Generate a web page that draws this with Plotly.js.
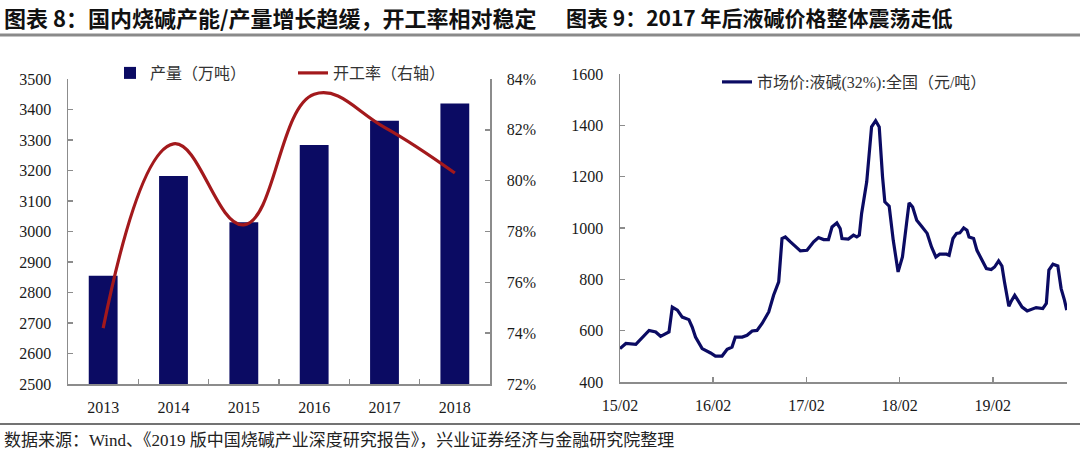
<!DOCTYPE html>
<html><head><meta charset="utf-8">
<script src="https://cdn.plot.ly/plotly-3.0.1.min.js"></script>
<style>html,body{margin:0;padding:0;background:#fff;}#chart{width:1080px;height:452px;}</style>
</head><body><div id="chart"></div>
<script>
// Left chart: output (10k tonnes) and operating rate (%)
const years = ['2013','2014','2015','2016','2017','2018'];
const output = [2855, 3182, 3030, 3284, 3363, 3420];
const rate = [74.2, 81.45, 78.26, 83.4, 82.1, 80.3];

// Right chart: liquid caustic soda (32%) national market price, yuan/tonne
const priceDates = ['2015-02-01','2015-02-24','2015-04-04','2015-04-24','2015-05-26','2015-06-21','2015-07-10','2015-08-12','2015-08-25','2015-09-14',
 '2015-10-03','2015-10-29','2015-11-11','2015-11-24','2015-12-20','2016-01-22','2016-02-10','2016-03-07','2016-03-27','2016-04-15',
 '2016-04-28','2016-05-25','2016-06-13','2016-07-03','2016-07-22','2016-08-11','2016-09-06','2016-09-25','2016-10-15','2016-10-28',
 '2016-11-10','2016-11-30','2017-01-08','2017-02-03','2017-03-01','2017-03-20','2017-04-09','2017-04-28','2017-05-12','2017-05-31',
 '2017-06-13','2017-06-20','2017-07-15','2017-08-04','2017-08-17','2017-08-27','2017-09-05','2017-09-25','2017-10-14','2017-10-30',
 '2017-11-13','2017-11-26','2017-12-05','2017-12-22','2018-01-07','2018-01-26','2018-02-12','2018-02-28','2018-03-10','2018-03-24',
 '2018-04-09','2018-04-28','2018-05-20','2018-06-06','2018-06-23','2018-07-08','2018-08-04','2018-08-14','2018-08-29','2018-09-12',
 '2018-09-25','2018-10-10','2018-10-23','2018-10-31','2018-11-18','2018-12-01','2018-12-18','2019-01-07','2019-01-26','2019-02-08',
 '2019-02-24','2019-03-09','2019-03-19','2019-04-05','2019-04-15','2019-04-28','2019-05-10','2019-05-27','2019-06-16','2019-07-02',
 '2019-07-21','2019-08-16','2019-08-30','2019-09-09','2019-09-25','2019-10-14','2019-10-27','2019-11-09','2019-11-18'];
const priceValues = [530,550,547,569,601,595,578,595,692,680,
 653,643,614,575,530,513,501,501,527,536,
 575,575,582,599,601,628,673,738,790,959,
 965,946,911,913,946,963,955,955,1004,1020,
 998,959,957,972,965,972,1057,1180,1394,1418,
 1394,1199,1102,1085,952,829,887,1017,1098,1082,
 1030,1007,979,926,887,898,898,894,959,979,
 981,1000,991,965,959,913,881,842,838,848,
 872,852,790,695,716,738,719,692,677,682,
 690,686,706,836,859,852,764,719,680];
const priceTickVals = ['2015-02-01','2016-02-01','2017-02-01','2018-02-01','2019-02-01'];
const priceTickText = ['15/02','16/02','17/02','18/02','19/02'];

const W = 1080, H = 452;
const px = v => v / W, py = v => 1 - v / H;
const serif = 'Liberation Serif, "Noto Sans CJK SC", serif';
const axisColor = '#8c8c8c';
const navy = '#0b0b63';
const red = '#a3191c';

const traces = [
  {type:'bar', x: years, y: output, name:'产量（万吨）', marker:{color:navy}, xaxis:'x', yaxis:'y', legend:'legend', width:0.41},
  {type:'scatter', mode:'lines', x: years, y: rate, name:'开工率（右轴）', line:{color:red, width:3.2, shape:'spline', smoothing:1.2}, xaxis:'x', yaxis:'y2', legend:'legend'},
  {type:'scatter', mode:'lines', x: priceDates, y: priceValues, name:'市场价:液碱(32%):全国（元/吨）', line:{color:navy, width:3.2}, xaxis:'x2', yaxis:'y3', legend:'legend2'}
];

const tickFont = {family: serif, size: 16, color:'#1a1a1a'};
const axBase = {showgrid:false, zeroline:false, showline:true, linecolor:axisColor, linewidth:1.5,
  ticks:'inside', ticklen:5, tickcolor:axisColor, tickwidth:1.5, tickfont:tickFont, fixedrange:true};

const layout = {
  width: W, height: H,
  margin:{l:0, r:0, t:0, b:0},
  paper_bgcolor:'#fff', plot_bgcolor:'#fff',
  font:{family: serif},
  xaxis: Object.assign({}, axBase, {domain:[px(68), px(490)], type:'category', tickson:'boundaries', anchor:'y', ticklabelstandoff:8}),
  yaxis: Object.assign({}, axBase, {domain:[1-384/H, 1-79/H], range:[2500,3500], dtick:100, anchor:'x', ticklabelstandoff:12}),
  yaxis2: Object.assign({}, axBase, {domain:[1-384/H, 1-79/H], range:[72,84], dtick:2, ticksuffix:'%', overlaying:'y', side:'right', anchor:'x', ticklabelstandoff:12}),
  xaxis2: Object.assign({}, axBase, {domain:[px(620), px(1067)], type:'date', range:['2015-02-01','2019-11-19'], tickvals: priceTickVals, ticktext: priceTickText, anchor:'y3', ticklabelstandoff:8}),
  yaxis3: Object.assign({}, axBase, {domain:[1-382/H, 1-74/H], range:[400,1600], dtick:200, anchor:'x2', ticklabelstandoff:12}),
  bargap: 0.59,
  showlegend: true,
  legend: {orientation:'h', x:px(110), y:py(56), xanchor:'left', yanchor:'top', bgcolor:'rgba(0,0,0,0)',
    font:{family: serif, size:16, color:'#333'}, entrywidth:138, itemwidth:30},
  legend2: {orientation:'h', x:px(717), y:py(65), xanchor:'left', yanchor:'top', bgcolor:'rgba(0,0,0,0)',
    font:{family: serif, size:16, color:'#333'}, itemwidth:30},
  annotations: [
    {xref:'paper', yref:'paper', x:px(2), y:py(17), xanchor:'left', yanchor:'middle', showarrow:false,
     text:'<b>图表 8：国内烧碱产能/产量增长趋缓，开工率相对稳定</b>', font:{family:'"Noto Sans CJK SC", sans-serif', size:22, color:'#111'}},
    {xref:'paper', yref:'paper', x:px(564), y:py(17), xanchor:'left', yanchor:'middle', showarrow:false,
     text:'<b>图表 9：2017 年后液碱价格整体震荡走低</b>', font:{family:'"Noto Sans CJK SC", sans-serif', size:21, color:'#111'}},
    {xref:'paper', yref:'paper', x:px(2), y:py(440), xanchor:'left', yanchor:'middle', showarrow:false,
     text:'数据来源：Wind、《2019 版中国烧碱产业深度研究报告》，兴业证券经济与金融研究院整理', font:{family: serif, size:17, color:'#222'}}
  ],
  shapes: [
    {type:'line', xref:'paper', yref:'paper', x0:0, x1:1, y0:py(35), y1:py(35), line:{color:'#8a8a8a', width:3}},
    {type:'line', xref:'paper', yref:'paper', x0:0, x1:1, y0:py(424), y1:py(424), line:{color:'#444', width:1.5}}
  ]
};

Plotly.newPlot('chart', traces, layout, {displayModeBar:false, staticPlot:true});
</script></body></html>
